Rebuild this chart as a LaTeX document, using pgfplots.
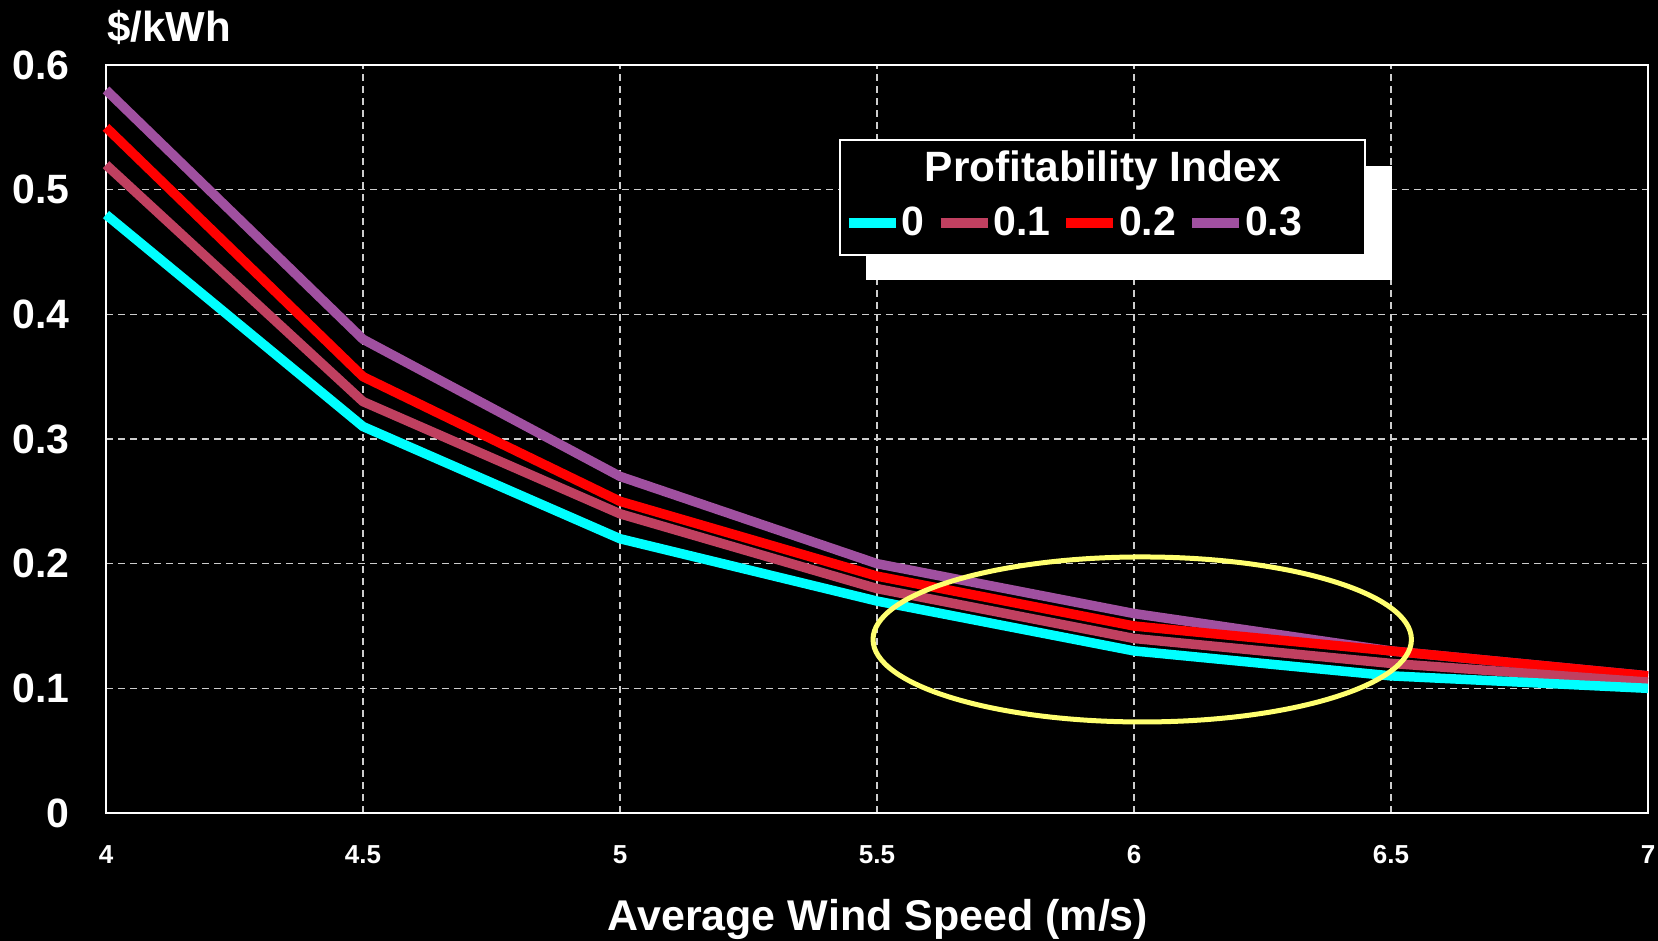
\documentclass[border=0pt]{standalone}
\usepackage{fontspec}
\setmainfont{Liberation Sans}
\usepackage{pgfplots}
\pgfplotsset{compat=1.18}
\definecolor{c0}{RGB}{0,255,255}
\definecolor{c1}{RGB}{192,64,96}
\definecolor{c2}{RGB}{255,0,0}
\definecolor{c3}{RGB}{160,80,160}
\definecolor{ell}{RGB}{255,255,112}
\definecolor{gridc}{RGB}{205,205,205}
\begin{document}
\begin{tikzpicture}
\useasboundingbox (0,0) rectangle (829pt,470.5pt);
\fill[black] (0,0) rectangle (829pt,470.5pt);
\begin{axis}[
  scale only axis, width=771pt, height=374pt,
  at={(53pt,64pt)}, anchor=south west,
  xmin=4, xmax=7, ymin=0, ymax=0.6,
  xtick={4,4.5,5,5.5,6,6.5,7},
  ytick={0,0.1,0.2,0.3,0.4,0.5,0.6},
  major tick length=0pt,
  axis line style={white, line width=1pt},
  grid=major,
  major grid style={gridc, line width=0.6pt, dash pattern=on 3.5pt off 2.5pt},
  /pgf/number format/assume math mode=true,
  /pgf/number format/fixed,
  xticklabel style={font=\bfseries\fontsize{13}{15}\selectfont, text=white, inner sep=0pt, anchor=north, yshift=-16pt},
  yticklabel style={font=\bfseries\fontsize{20.5}{24}\selectfont, text=white, inner sep=0pt, anchor=east, xshift=-18pt},
  clip=false,
  legend columns=4,
  legend entries={0,0.1,0.2,0.3},
  legend style={at={(axis description cs:0.4784,0.7888)}, anchor=west, draw=none, fill=none, inner sep=0pt,
    nodes={inner sep=0pt, text=white, font=\bfseries\fontsize{20.5}{24}\selectfont},
    /tikz/every odd column/.style={column sep=0.5pt},
    /tikz/every even column/.style={column sep=5.7pt}},
  legend image code/.code={\draw[#1] (0pt,0pt) -- (23.5pt,0pt);},
  every axis plot/.append style={line width=4.75pt, line join=round},
]
\addlegendimage{c0, line width=4.75pt}
\addlegendimage{c1, line width=4.75pt}
\addlegendimage{c2, line width=4.75pt}
\addlegendimage{c3, line width=4.75pt}
\addplot[c3, forget plot] coordinates {(4,0.58) (4.5,0.38) (5,0.27) (5.5,0.20) (6,0.16) (6.5,0.13) (7,0.11)};
\addplot[c2, forget plot] coordinates {(4,0.55) (4.5,0.35) (5,0.25) (5.5,0.19) (6,0.15) (6.5,0.13) (7,0.11)};
\addplot[c1, forget plot] coordinates {(4,0.52) (4.5,0.33) (5,0.24) (5.5,0.18) (6,0.14) (6.5,0.12) (7,0.105)};
\addplot[c0, forget plot] coordinates {(4,0.48) (4.5,0.31) (5,0.22) (5.5,0.17) (6,0.13) (6.5,0.11) (7,0.10)};
\draw[ell, line width=2.5pt] (axis cs:6.016,0.1392) ellipse [x radius=134.6pt, y radius=41.25pt];
\fill[white] (axis description cs:0.4929,0.7126) rectangle (axis description cs:0.8337,0.8650);
\filldraw[fill=black, draw=white, line width=1pt] (axis description cs:0.4762,0.7460) rectangle (axis description cs:0.8165,0.8997);
\node[anchor=base, text=white, inner sep=0pt, font=\bfseries\fontsize{21.2}{25}\selectfont] at (axis description cs:0.6464,0.8439) {Profitability Index};
\end{axis}
\node[anchor=base west, text=white, inner sep=0pt, font=\bfseries\fontsize{21}{25}\selectfont] at (53.5pt,449.5pt) {\$/kWh};
\node[anchor=base, text=white, inner sep=0pt, font=\bfseries\fontsize{21.5}{26}\selectfont] at (439pt,5pt) {Average Wind Speed (m/s)};
\end{tikzpicture}
\end{document}
